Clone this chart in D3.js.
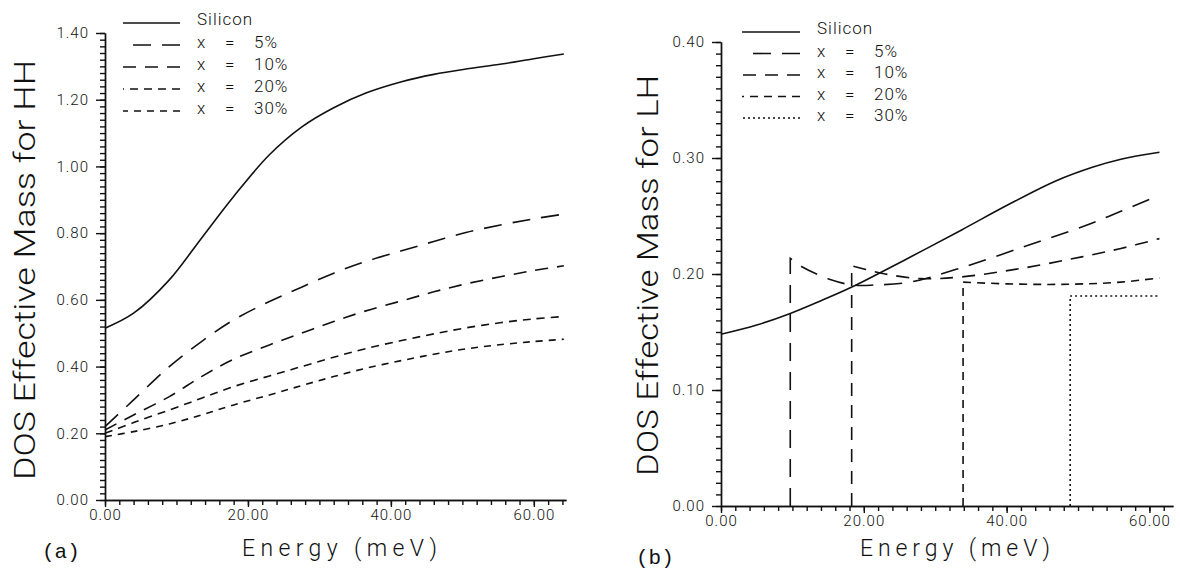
<!DOCTYPE html>
<html lang="en">
<head>
<meta charset="utf-8">
<title>DOS Effective Mass for HH and LH</title>
<script src="https://d3js.org/d3.v7.min.js"></script>
<style>
  body { margin: 0; background: #fff; }
  svg { display: block; font-family: "Roboto", "DejaVu Sans", sans-serif; font-weight: 300; }
  .axis path, .axis line { stroke: #111; stroke-width: 1.4; }
  .axis text { font-family: "Roboto", sans-serif; font-weight: 300; font-size: 15px; letter-spacing: 1px; fill: #111; }
  .curve { fill: none; stroke: #111; stroke-width: 1.6; }
  .legend text { font-size: 17px; letter-spacing: 1px; fill: #111; }
  .title { fill: #111; }
  .panel-tag { font-family: "Liberation Mono", monospace; font-weight: 400; font-size: 21px; fill: #111; }
</style>
</head>
<body>
<script>
const width = 1180;
const height = 577;

// ---- (a) heavy holes ----
const hhEnergy  = [0, 4, 9, 13.5, 18, 23, 27.5, 32, 36.5, 41.5, 46, 50.5, 55.5, 60, 64.2];
const hhSilicon = [0.515, 0.56, 0.66, 0.785, 0.91, 1.035, 1.118, 1.176, 1.22, 1.254, 1.276, 1.292, 1.307, 1.323, 1.337];
const hhX5      = [0.22, 0.30, 0.40, 0.475, 0.54, 0.595, 0.638, 0.68, 0.715, 0.747, 0.775, 0.802, 0.825, 0.843, 0.857];
const hhX10     = [0.21, 0.255, 0.31, 0.37, 0.422, 0.465, 0.50, 0.535, 0.567, 0.597, 0.624, 0.648, 0.67, 0.688, 0.702];
const hhX20     = [0.20, 0.232, 0.27, 0.305, 0.34, 0.372, 0.40, 0.428, 0.454, 0.478, 0.498, 0.516, 0.532, 0.543, 0.55];
const hhX30     = [0.19, 0.205, 0.228, 0.255, 0.285, 0.315, 0.343, 0.37, 0.395, 0.418, 0.437, 0.453, 0.466, 0.475, 0.482];

// ---- (b) light holes (alloy curves start with a vertical onset) ----
const lhSiliconEnergy = [0, 5, 9.7, 14, 18.4, 26, 33.7, 40, 46.8, 52, 56, 61.4];
const lhSilicon       = [0.148, 0.156, 0.166, 0.177, 0.189, 0.213, 0.238, 0.259, 0.28, 0.292, 0.299, 0.305];
const lhX5Energy  = [9.7, 11.4, 15.4, 18.5, 21.5, 26.5, 33.7, 42.2, 50.7, 56, 61.4];
const lhX5        = [0.2135, 0.206, 0.195, 0.1905, 0.1905, 0.193, 0.2055, 0.223, 0.241, 0.254, 0.268];
const lhX10Energy = [18.3, 19.6, 23, 28, 33.7, 42.2, 50.7, 56, 61.4];
const lhX10       = [0.207, 0.205, 0.2, 0.196, 0.1975, 0.205, 0.215, 0.222, 0.2305];
const lhX20Energy = [33.9, 40, 46, 51, 56, 61.4];
const lhX20       = [0.193, 0.1915, 0.191, 0.1915, 0.193, 0.1966];
const lhX30Energy = [48.9, 55, 61.4];
const lhX30       = [0.181, 0.181, 0.181];

// ---- ticks and labels ----
const hhYTicks = [0, 0.2, 0.4, 0.6, 0.8, 1.0, 1.2, 1.4];
const lhYTicks = [0, 0.1, 0.2, 0.3, 0.4];
const xTicks = [0, 20, 40, 60];
const legendNames = ["Silicon", "5%", "10%", "20%", "30%"];

const svg = d3.select("body").append("svg")
    .attr("width", width)
    .attr("height", height);

function drawPanel(p) {
    const x = d3.scaleLinear().domain([0, p.xMax]).range(p.xRange);
    const y = d3.scaleLinear().domain([0, p.yMax]).range(p.yRange);

    // minor ticks first
    svg.append("g").attr("class", "axis")
        .attr("transform", "translate(0," + p.yRange[0] + ")")
        .call(d3.axisBottom(x).tickValues(d3.range(0, p.xMax, 2)).tickSize(5).tickFormat("").tickSizeOuter(0));
    svg.append("g").attr("class", "axis")
        .attr("transform", "translate(" + p.xRange[0] + ",0)")
        .call(d3.axisLeft(y).tickValues(d3.range(0, p.yMax + 1e-6, p.yMinor)).tickSize(5).tickFormat("").tickSizeOuter(0));

    // major ticks with labels
    svg.append("g").attr("class", "axis")
        .attr("transform", "translate(0," + p.yRange[0] + ")")
        .call(d3.axisBottom(x).tickValues(xTicks).tickSize(7).tickPadding(2).tickFormat(d => d.toFixed(2)).tickSizeOuter(0));
    svg.append("g").attr("class", "axis")
        .attr("transform", "translate(" + p.xRange[0] + ",0)")
        .call(d3.axisLeft(y).tickValues(p.yTicks).tickSize(9).tickPadding(7).tickFormat(d => d.toFixed(2)).tickSizeOuter(0));

    const line = d3.line().x(d => x(d[0])).y(d => y(d[1])).curve(d3.curveCatmullRom.alpha(0.5));

    p.series.forEach(s => {
        const pts = s.energy.map((e, i) => [e, s.values[i]]);
        let path = line(pts);
        if (s.onset) path = "M" + x(s.energy[0]) + "," + y(0) + "L" + path.slice(1);
        svg.append("path")
            .attr("class", "curve")
            .attr("d", path)
            .attr("stroke-dasharray", s.dash);
    });

    // legend
    const lg = svg.append("g").attr("class", "legend");
    p.series.forEach((s, i) => {
        const ly = p.legend.y0 + i * p.legend.step;
        lg.append("line")
            .attr("x1", p.legend.lineX[1]).attr("x2", p.legend.lineX[0])
            .attr("y1", ly).attr("y2", ly)
            .attr("stroke", "#111").attr("stroke-width", 1.6)
            .attr("stroke-dasharray", s.dash);
        if (i === 0) {
            lg.append("text").attr("x", p.legend.textX).attr("y", ly + 2).text(legendNames[i]);
        } else {
            lg.append("text").attr("x", p.legend.textX).attr("y", ly + 3).text("x");
            lg.append("text").attr("x", p.legend.textX + 28).attr("y", ly + 3).text("=");
            lg.append("text").attr("x", p.legend.textX + 57).attr("y", ly + 3).text(legendNames[i]);
        }
    });

    // axis titles
    svg.append("text").attr("class", "title")
        .attr("transform", "translate(" + p.yTitle.x + "," + p.yTitle.y + ") rotate(-90)")
        .attr("font-size", p.yTitle.size)
        .attr("textLength", p.yTitle.len).attr("lengthAdjust", "spacingAndGlyphs")
        .text(p.yTitle.text);
    svg.append("text").attr("class", "title")
        .attr("x", p.xTitle.x).attr("y", 556)
        .attr("font-size", 23)
        .attr("textLength", p.xTitle.len).attr("lengthAdjust", "spacing")
        .text("Energy (meV)");
    svg.append("text").attr("class", "panel-tag")
        .attr("x", p.tag.x).attr("y", p.tag.y)
        .text(p.tag.text);
}

drawPanel({
    xMax: 64.5, xRange: [105, 566],
    yMax: 1.4, yRange: [500, 33], yTicks: hhYTicks, yMinor: 0.02,
    series: [
        { energy: hhEnergy, values: hhSilicon, dash: null },
        { energy: hhEnergy, values: hhX5, dash: "18,11" },
        { energy: hhEnergy, values: hhX10, dash: "13,9" },
        { energy: hhEnergy, values: hhX20, dash: "8,6" },
        { energy: hhEnergy, values: hhX30, dash: "7,6" }
    ],
    legend: { lineX: [123, 180], textX: 197, y0: 23, step: 22 },
    yTitle: { x: 35, y: 480, size: 30, len: 420, text: "DOS Effective Mass for HH" },
    xTitle: { x: 242, len: 195 },
    tag: { x: 42, y: 558, text: "(a)" }
});

drawPanel({
    xMax: 63.3, xRange: [721, 1173],
    yMax: 0.4, yRange: [506, 42], yTicks: lhYTicks, yMinor: 0.01,
    series: [
        { energy: lhSiliconEnergy, values: lhSilicon, dash: null },
        { energy: lhX5Energy, values: lhX5, dash: "18,11", onset: true },
        { energy: lhX10Energy, values: lhX10, dash: "13,9", onset: true },
        { energy: lhX20Energy, values: lhX20, dash: "8,6", onset: true },
        { energy: lhX30Energy, values: lhX30, dash: "2,3", onset: true }
    ],
    legend: { lineX: [742, 800], textX: 817, y0: 32, step: 21.5 },
    yTitle: { x: 658, y: 476, size: 29, len: 401, text: "DOS Effective Mass for LH" },
    xTitle: { x: 860, len: 190 },
    tag: { x: 636, y: 564, text: "(b)" }
});
</script>
</body>
</html>
